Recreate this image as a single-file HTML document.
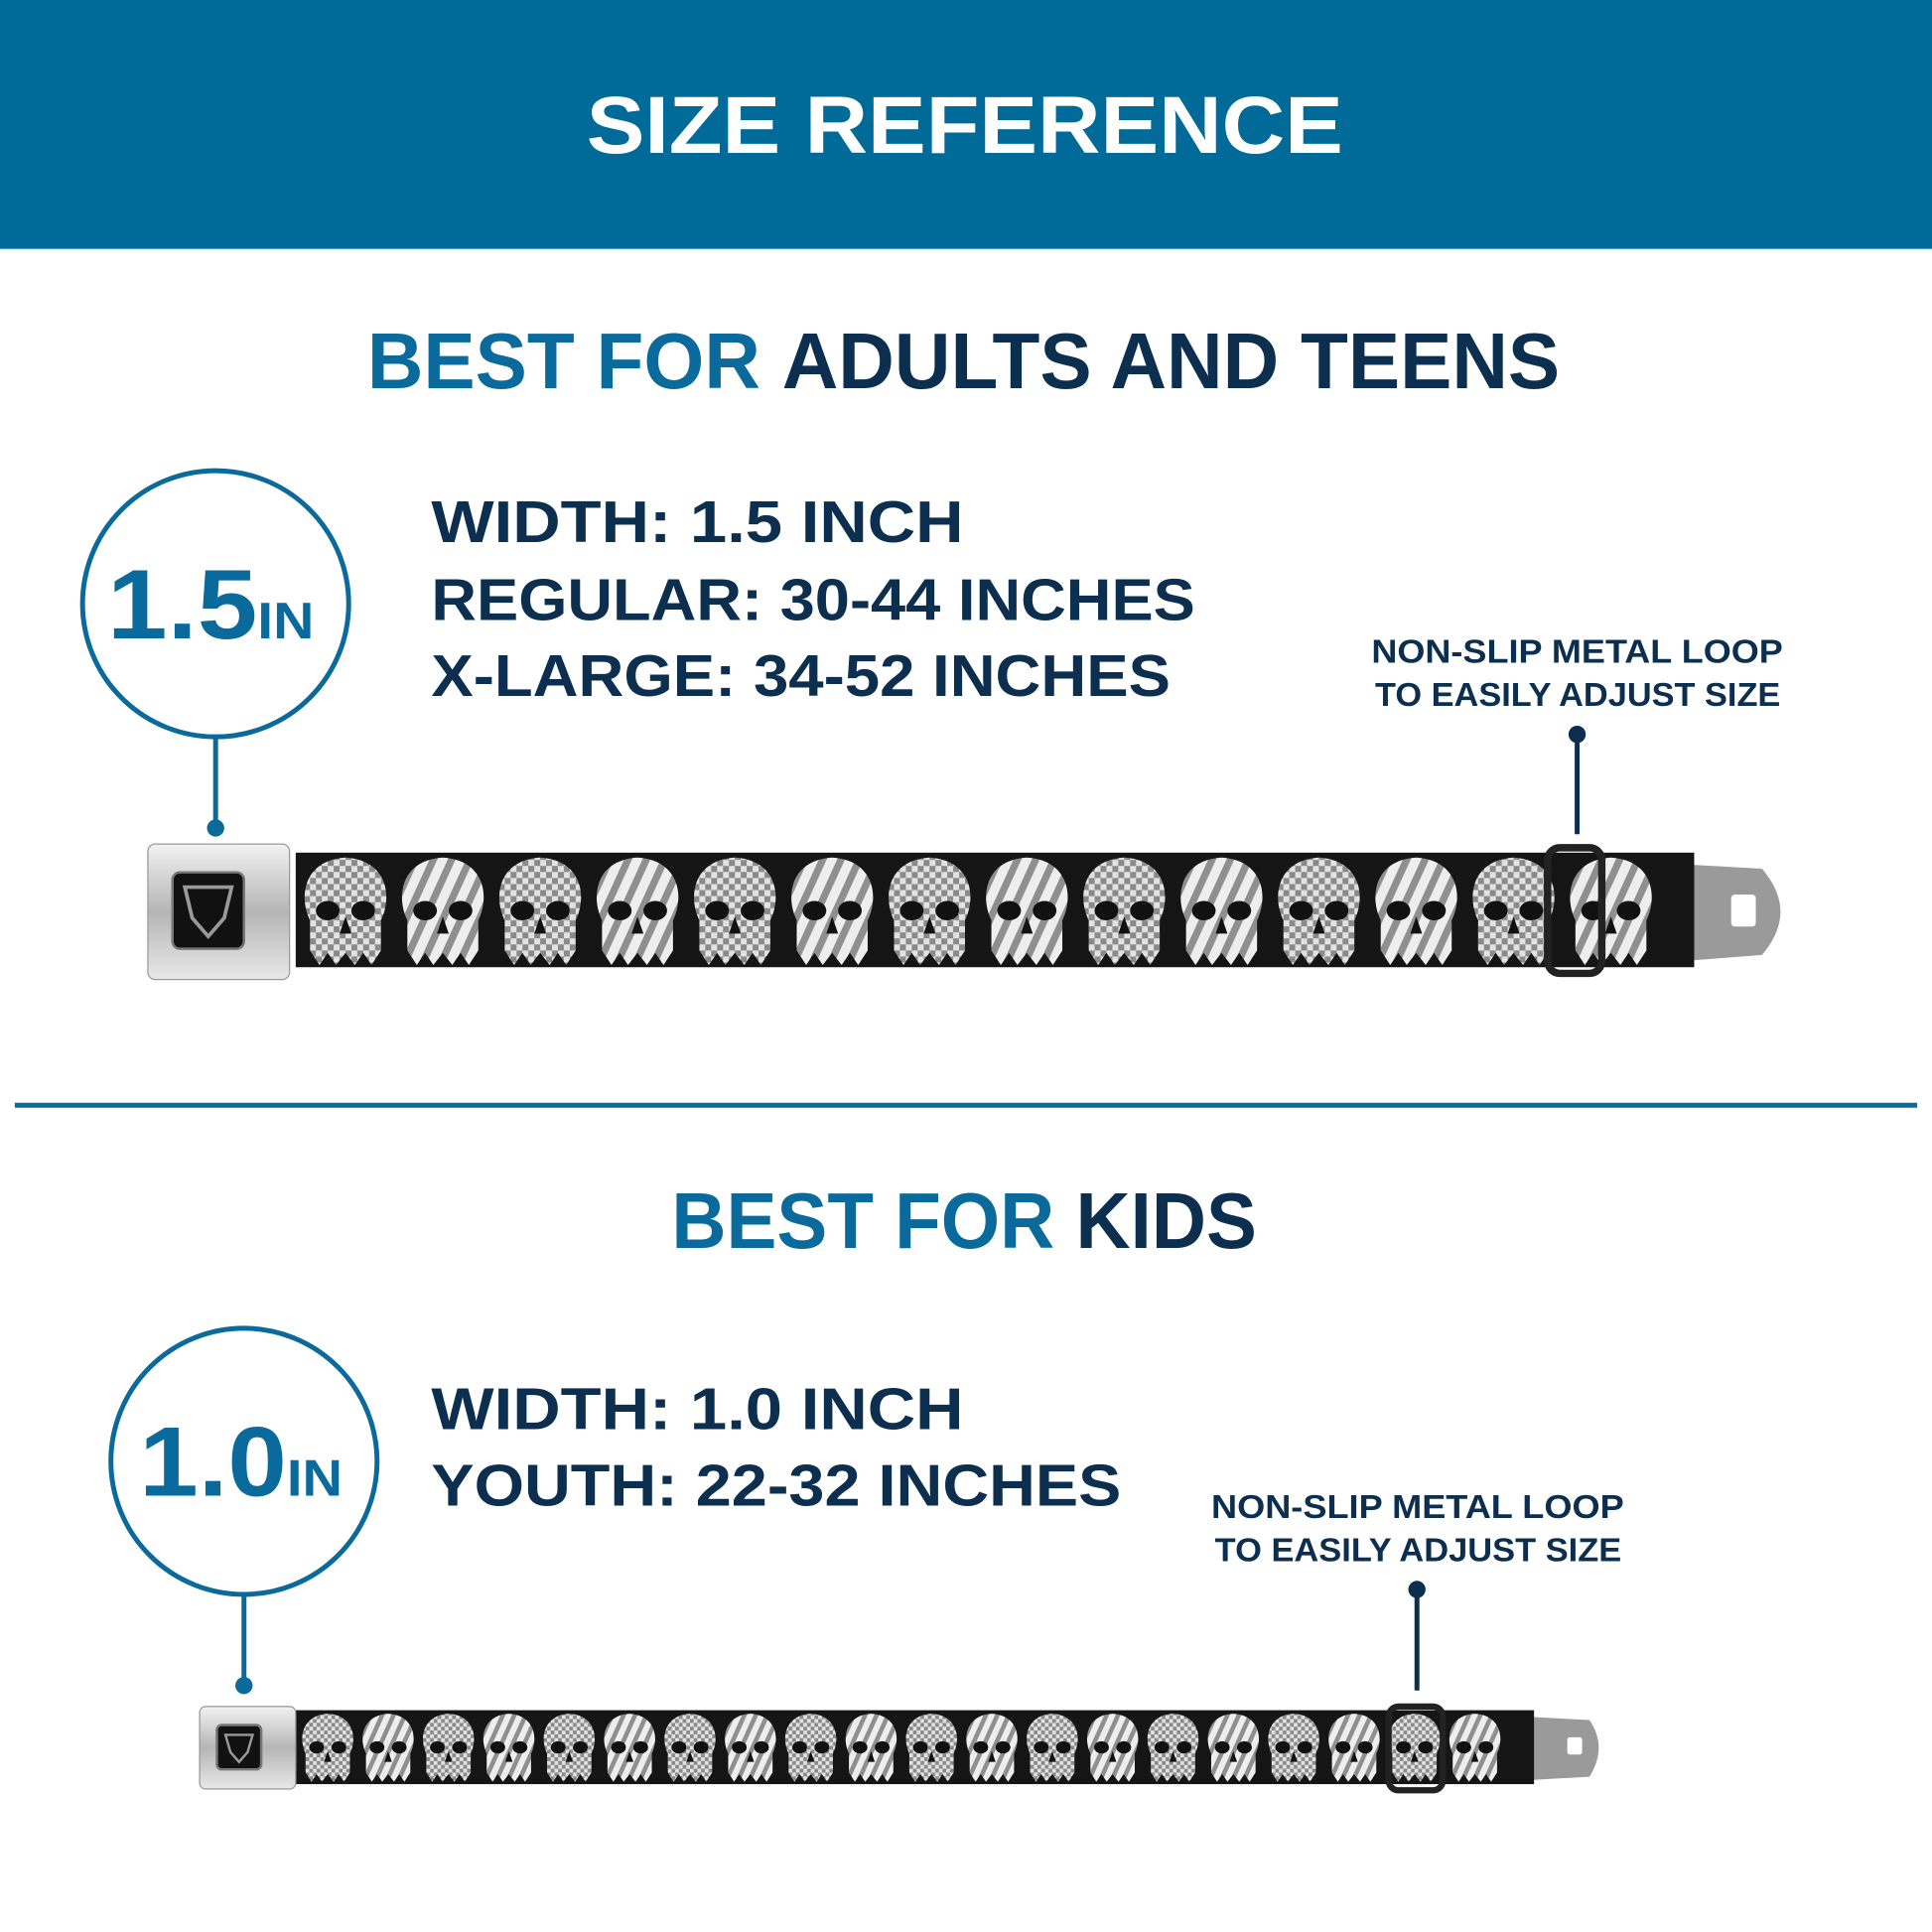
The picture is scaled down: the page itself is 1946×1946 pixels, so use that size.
<!DOCTYPE html>
<html><head><style>html,body{margin:0;padding:0;background:#fff}svg{display:block}</style></head>
<body>
<svg width="1946" height="1946" viewBox="0 0 1568 1568" xmlns="http://www.w3.org/2000/svg" font-family="'Liberation Sans', sans-serif" font-weight="bold">
<defs>
<pattern id="chk" width="10" height="10" patternUnits="userSpaceOnUse"><rect width="10" height="10" fill="#e2e2e2"/><rect width="5" height="5" fill="#8a8a8a"/><rect x="5" y="5" width="5" height="5" fill="#8a8a8a"/></pattern>
<pattern id="str" width="14" height="14" patternUnits="userSpaceOnUse" patternTransform="rotate(25)"><rect width="14" height="14" fill="#eeeeee"/><rect width="6" height="14" fill="#8f8f8f"/></pattern>
<linearGradient id="silver" x1="0" y1="0" x2="0" y2="1"><stop offset="0" stop-color="#f2f2f2"/><stop offset="0.5" stop-color="#b5b5b5"/><stop offset="1" stop-color="#e8e8e8"/></linearGradient>
<g id="skA"><path d="M10,55 C0,35 5,5 40,3 C75,5 80,35 70,55 L70,80 L62,92 L55,82 L48,92 L40,82 L32,92 L25,82 L18,92 L10,80 Z" fill="url(#chk)"/><ellipse cx="25" cy="47" rx="10" ry="8" fill="#111"/><ellipse cx="55" cy="47" rx="10" ry="8" fill="#111"/><path d="M40,52 L35,66 L45,66 Z" fill="#111"/></g>
<g id="skB"><path d="M10,55 C0,35 5,5 40,3 C75,5 80,35 70,55 L70,80 L62,92 L55,82 L48,92 L40,82 L32,92 L25,82 L18,92 L10,80 Z" fill="url(#str)"/><ellipse cx="25" cy="47" rx="10" ry="8" fill="#111"/><ellipse cx="55" cy="47" rx="10" ry="8" fill="#111"/><path d="M40,52 L35,66 L45,66 Z" fill="#111"/></g>
</defs>
<rect width="1568" height="202" fill="#006a98"/>
<text x="476" y="124" fill="#fff" font-size="66" textLength="614" lengthAdjust="spacingAndGlyphs">SIZE REFERENCE</text>

<text x="298" y="315" font-size="64" textLength="968" lengthAdjust="spacingAndGlyphs"><tspan fill="#0a6a9c">BEST FOR </tspan><tspan fill="#0c2f4f">ADULTS AND TEENS</tspan></text>
<circle cx="175" cy="490" r="108" fill="none" stroke="#0a6a9c" stroke-width="4"/>
<text x="87" y="518" fill="#0a6a9c" font-size="80" textLength="168" lengthAdjust="spacingAndGlyphs">1.5<tspan font-size="42">IN</tspan></text>
<line x1="175" y1="598" x2="175" y2="672" stroke="#0a6a9c" stroke-width="4"/><circle cx="175" cy="672" r="7" fill="#0a6a9c"/>
<g fill="#0c2f4f" font-size="48">
<text x="350" y="440" textLength="432" lengthAdjust="spacingAndGlyphs">WIDTH: 1.5 INCH</text>
<text x="350" y="503" textLength="620" lengthAdjust="spacingAndGlyphs">REGULAR: 30-44 INCHES</text>
<text x="350" y="565" textLength="600" lengthAdjust="spacingAndGlyphs">X-LARGE: 34-52 INCHES</text></g>
<g fill="#0c2f4f" font-size="27">
<text x="1113" y="538" textLength="334" lengthAdjust="spacingAndGlyphs">NON-SLIP METAL LOOP</text>
<text x="1116" y="573" textLength="329" lengthAdjust="spacingAndGlyphs">TO EASILY ADJUST SIZE</text></g>
<line x1="1280" y1="596" x2="1280" y2="677" stroke="#0c2f4f" stroke-width="4"/><circle cx="1280" cy="596" r="7" fill="#0c2f4f"/>

<!-- adult belt -->
<path d="M1340,700 L1430,705 Q1460,740 1430,775 L1340,782 Z" fill="#9a9a9a"/>
<rect x="1405" y="726" width="20" height="26" fill="#fff" rx="3"/>
<rect x="240" y="692" width="1135" height="93" fill="#151515"/>
<g>
<use href="#skA" transform="translate(242,693) scale(0.96,0.98)"/>
<use href="#skB" transform="translate(321,693) scale(0.96,0.98)"/>
<use href="#skA" transform="translate(400,693) scale(0.96,0.98)"/>
<use href="#skB" transform="translate(479,693) scale(0.96,0.98)"/>
<use href="#skA" transform="translate(558,693) scale(0.96,0.98)"/>
<use href="#skB" transform="translate(637,693) scale(0.96,0.98)"/>
<use href="#skA" transform="translate(716,693) scale(0.96,0.98)"/>
<use href="#skB" transform="translate(795,693) scale(0.96,0.98)"/>
<use href="#skA" transform="translate(874,693) scale(0.96,0.98)"/>
<use href="#skB" transform="translate(953,693) scale(0.96,0.98)"/>
<use href="#skA" transform="translate(1032,693) scale(0.96,0.98)"/>
<use href="#skB" transform="translate(1111,693) scale(0.96,0.98)"/>
<use href="#skA" transform="translate(1190,693) scale(0.96,0.98)"/>
<use href="#skB" transform="translate(1269,693) scale(0.96,0.98)"/>
</g>
<rect x="1256" y="688" width="44" height="102" rx="10" fill="none" stroke="#222" stroke-width="6"/>
<rect x="120" y="685" width="115" height="110" rx="6" fill="url(#silver)" stroke="#999"/>
<rect x="140" y="708" width="58" height="62" rx="6" fill="#111" stroke="#777" stroke-width="2"/>
<path d="M150,720 L188,720 L182,745 L169,760 L156,745 Z" fill="none" stroke="#999" stroke-width="3"/>

<line x1="12" y1="897" x2="1556" y2="897" stroke="#0a6a9c" stroke-width="4"/>

<text x="545" y="1013" font-size="64" textLength="475" lengthAdjust="spacingAndGlyphs"><tspan fill="#0a6a9c">BEST FOR </tspan><tspan fill="#0c2f4f">KIDS</tspan></text>
<circle cx="198" cy="1186" r="108" fill="none" stroke="#0a6a9c" stroke-width="4"/>
<text x="113" y="1214" fill="#0a6a9c" font-size="80" textLength="165" lengthAdjust="spacingAndGlyphs">1.0<tspan font-size="42">IN</tspan></text>
<line x1="198" y1="1294" x2="198" y2="1368" stroke="#0a6a9c" stroke-width="4"/><circle cx="198" cy="1368" r="7" fill="#0a6a9c"/>
<g fill="#0c2f4f" font-size="48">
<text x="350" y="1160" textLength="432" lengthAdjust="spacingAndGlyphs">WIDTH: 1.0 INCH</text>
<text x="350" y="1222" textLength="560" lengthAdjust="spacingAndGlyphs">YOUTH: 22-32 INCHES</text></g>
<g fill="#0c2f4f" font-size="27">
<text x="983" y="1232" textLength="335" lengthAdjust="spacingAndGlyphs">NON-SLIP METAL LOOP</text>
<text x="986" y="1267" textLength="330" lengthAdjust="spacingAndGlyphs">TO EASILY ADJUST SIZE</text></g>
<line x1="1150" y1="1290" x2="1150" y2="1372" stroke="#0c2f4f" stroke-width="4"/><circle cx="1150" cy="1290" r="7" fill="#0c2f4f"/>

<!-- kids belt -->
<path d="M1235,1393 L1290,1396 Q1305,1418 1290,1442 L1235,1445 Z" fill="#9a9a9a"/>
<rect x="1272" y="1410" width="12" height="14" fill="#fff" rx="2"/>
<rect x="240" y="1388" width="1005" height="60" fill="#151515"/>
<g>
<use href="#skA" transform="translate(242,1389) scale(0.6,0.62)"/>
<use href="#skB" transform="translate(291,1389) scale(0.6,0.62)"/>
<use href="#skA" transform="translate(340,1389) scale(0.6,0.62)"/>
<use href="#skB" transform="translate(389,1389) scale(0.6,0.62)"/>
<use href="#skA" transform="translate(438,1389) scale(0.6,0.62)"/>
<use href="#skB" transform="translate(487,1389) scale(0.6,0.62)"/>
<use href="#skA" transform="translate(536,1389) scale(0.6,0.62)"/>
<use href="#skB" transform="translate(585,1389) scale(0.6,0.62)"/>
<use href="#skA" transform="translate(634,1389) scale(0.6,0.62)"/>
<use href="#skB" transform="translate(683,1389) scale(0.6,0.62)"/>
<use href="#skA" transform="translate(732,1389) scale(0.6,0.62)"/>
<use href="#skB" transform="translate(781,1389) scale(0.6,0.62)"/>
<use href="#skA" transform="translate(830,1389) scale(0.6,0.62)"/>
<use href="#skB" transform="translate(879,1389) scale(0.6,0.62)"/>
<use href="#skA" transform="translate(928,1389) scale(0.6,0.62)"/>
<use href="#skB" transform="translate(977,1389) scale(0.6,0.62)"/>
<use href="#skA" transform="translate(1026,1389) scale(0.6,0.62)"/>
<use href="#skB" transform="translate(1075,1389) scale(0.6,0.62)"/>
<use href="#skA" transform="translate(1124,1389) scale(0.6,0.62)"/>
<use href="#skB" transform="translate(1173,1389) scale(0.6,0.62)"/>
</g>
<rect x="1127" y="1385" width="44" height="68" rx="8" fill="none" stroke="#222" stroke-width="5"/>
<rect x="162" y="1385" width="78" height="67" rx="5" fill="url(#silver)" stroke="#999"/>
<rect x="176" y="1400" width="36" height="36" rx="4" fill="#111" stroke="#777" stroke-width="2"/>
<path d="M183,1408 L205,1408 L201,1422 L194,1430 L187,1422 Z" fill="none" stroke="#999" stroke-width="2"/>
</svg>
</body></html>
